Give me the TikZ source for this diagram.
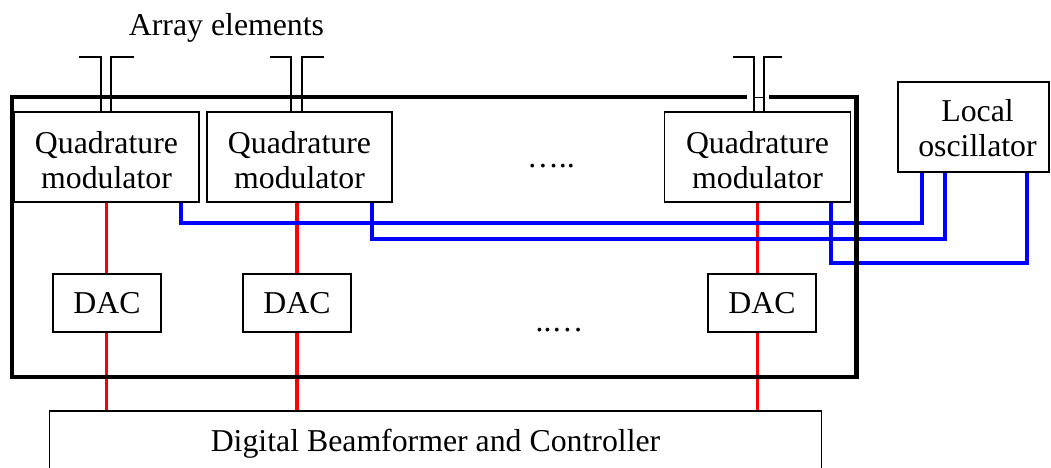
\documentclass[tikz,border=0pt]{standalone}
\usepackage{fontspec}
\setmainfont{Liberation Serif}
\usetikzlibrary{calc}
\begin{document}
\begin{tikzpicture}[x=1pt,y=-1pt,
  every node/.style={font=\fontsize{31.8}{35}\selectfont},
  box/.style={draw, line width=1.8pt, inner sep=0pt, align=center, fill=white},
  qbox/.style={box, minimum width=185pt, minimum height=90pt, text height=62pt, text depth=0pt},
  dbox/.style={box, minimum width=108pt, minimum height=58pt},
  redl/.style={draw=red, line width=3.6pt},
  bluel/.style={draw=blue, line width=4pt},
  ant/.style={draw, line width=2.2pt},
  outer/.style={draw, line width=4.2pt}]
\useasboundingbox (0,0) rectangle (1051,467);
% label
\node[anchor=base] (lbl) at (226.5,35) {Array elements};
% modulators
\node[qbox] (Q1) at (106.5,157) {Quadrature\\modulator};
\node[qbox] (Q2) at (299.5,157) {Quadrature\\modulator};
\node[qbox, minimum width=186pt] (Q3) at (757.5,157) {Quadrature\\modulator};
% DACs
\node[dbox] (D1) at (107,303) {DAC};
\node[dbox] (D2) at (297,303) {DAC};
\node[dbox] (D3) at (762,303) {DAC};
% beamformer
\node[box, minimum width=772pt, minimum height=65pt] (DBF) at (435.5,443.5) {Digital Beamformer and Controller};
% local oscillator
\node[box, minimum width=151pt, minimum height=90pt, text height=58pt, text depth=0pt] (LO) at (973.5,127) {\hspace*{8pt}Local\\\hspace*{8pt}oscillator};
% dots
\node[anchor=base] (dots1) at (551,167) {…..};
\node[anchor=base] (dots2) at (559.5,331) {..…};
% red lines
\draw[redl] (Q1.south) -- (Q1.south |- D1.north);
\draw[redl] (Q1.south |- D1.south) -- (Q1.south |- DBF.north);
\draw[redl] (Q2.south -| D2.north) -- (D2.north);
\draw[redl] (D2.south) -- (D2.south |- DBF.north);
\draw[redl] (Q3.south) -- (Q3.south |- D3.north);
\draw[redl] (Q3.south |- D3.south) -- (Q3.south |- DBF.north);
% blue lines
\draw[bluel] ($(Q1.south east)+(-19,0)$) -- ++(0,20) -| ($(LO.south west)+(25,0)$);
\draw[bluel] ($(Q2.south east)+(-21,0)$) -- ++(0,36) -| ($(LO.south west)+(48,0)$);
\draw[bluel] ($(Q3.south east)+(-20,0)$) -- ++(0,60) -| ($(LO.south west)+(129.5,0)$);
% outer box
\draw[outer] (12,97) rectangle (856.5,377);
\draw[draw=white, line width=5pt] (747,97) -- (769,97);
\draw[line width=1pt] (754,97) -- (764,97);
% antennas
\draw[ant] (79,57) -- (100.7,57) -- (Q1.north -| 100.7,0);
\draw[ant] (134,57) -- (111,57) -- (Q1.north -| 111,0);
\draw[ant] (270,57) -- (291,57) -- (Q2.north -| 291,0);
\draw[ant] (324,57) -- (302,57) -- (Q2.north -| 302,0);
\draw[ant] (733,57) -- (754,57) -- (Q3.north -| 754,0);
\draw[ant] (782,57) -- (764,57) -- (Q3.north -| 764,0);
\end{tikzpicture}
\end{document}
